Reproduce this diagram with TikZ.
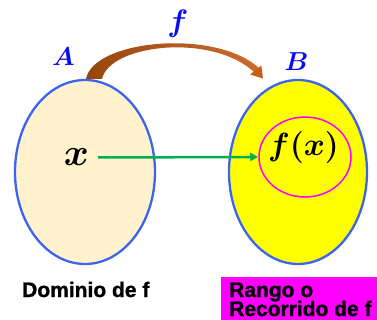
\RequirePackage{fix-cm}
\documentclass[tikz,border=0pt]{standalone}
\usepackage{fontspec}
\newfontfamily\labfont[BoldFeatures={FakeBold=1.2}]{Liberation Sans}
\usetikzlibrary{shapes.geometric,arrows.meta}
\definecolor{setblue}{RGB}{60,100,240}
\definecolor{domfill}{RGB}{255,242,204}
\definecolor{ranfill}{RGB}{255,255,0}
\definecolor{mag}{RGB}{255,0,255}
\definecolor{arrgreen}{RGB}{0,176,80}
\definecolor{brownA}{RGB}{150,70,12}
\definecolor{brownB}{RGB}{205,110,50}
\definecolor{brownH}{RGB}{200,92,25}
\definecolor{lblue}{RGB}{10,10,240}
\tikzset{
  setell/.style={ellipse, draw=setblue, line width=2.3pt, inner sep=0pt},
  setlabel/.style={text=lblue, font=\fontsize{26}{26}\selectfont\boldmath, inner sep=1pt},
  mathlab/.style={font=\boldmath, inner sep=2pt},
  caption/.style={anchor=base west, inner sep=0pt, font=\labfont\bfseries\fontsize{21}{21}\selectfont}
}
\begin{document}
\begin{tikzpicture}[x=1pt,y=-1pt]
\useasboundingbox (0,0) rectangle (377,320);
% sets
\node[setell, fill=domfill, minimum width=140pt, minimum height=184pt] (A) at (85,172) {};
\node[setell, fill=ranfill, minimum width=138pt, minimum height=184pt] (B) at (298,172) {};
\node[ellipse, draw=mag, line width=1.5pt, minimum width=92pt, minimum height=80pt, inner sep=0pt] (fxc) at (305,157) {};
% elements
\node[mathlab, font=\fontsize{38}{38}\selectfont\boldmath] (xn) at (76.5,157.5) {$x$};
\node[mathlab, font=\fontsize{32}{32}\selectfont\boldmath] (fx) at (303.5,148) {$f(x)$};
% set labels
\node[setlabel] (Alab) at (63.5,57) {$A$};
\node[setlabel] (Blab) at (296.5,61.5) {$B$};
\node[setlabel, font=\fontsize{31}{31}\selectfont\boldmath] (flab) at (178,24) {$f$};
% green mapping arrow
\draw[arrgreen, line width=2.5pt, shorten <=7pt, -{Triangle[length=8pt,width=8pt]}] (xn.east) -- (fxc.west);
% brown curved arrow (tapered)
\shade[left color=brownA, right color=brownB]
  (86,79) .. controls (93,40) and (215,28) .. (259,68)
  -- (254,72) .. controls (212,33) and (110,44) .. (102,79) -- cycle;
\fill[brownH] (261.3,65.5) -- (263,78.5) -- (250.2,74.5) -- cycle;
% captions
\node[caption] (dom) at (22,297) {Dominio de f};
\fill[mag] (221,277) rectangle (377,320);
\node[caption] (ran1) at (229,297) {Rango o};
\node[caption] (ran2) at (229,316) {Recorrido de f};
\end{tikzpicture}
\end{document}
